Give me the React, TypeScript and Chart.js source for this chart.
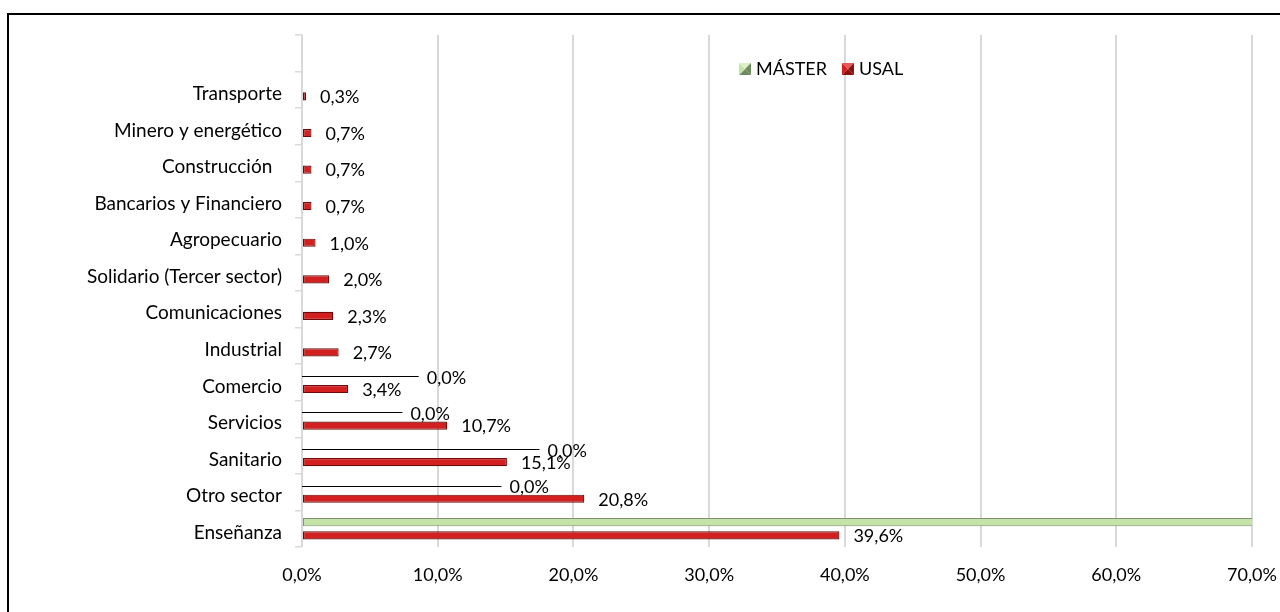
import React, { useEffect, useRef } from 'react';
import { Chart, registerables } from 'chart.js';

Chart.register(...registerables);

const categories = [
  '',
  'Transporte',
  'Minero y energético',
  'Construcción  ',
  'Bancarios y Financiero',
  'Agropecuario',
  'Solidario (Tercer sector)',
  'Comunicaciones',
  'Industrial',
  'Comercio',
  'Servicios',
  'Sanitario',
  'Otro sector',
  'Enseñanza',
];

const usalValues: (number | null)[] = [null, 0.3, 0.7, 0.7, 0.7, 1.0, 2.0, 2.3, 2.7, 3.4, 10.7, 15.1, 20.8, 39.6];
const masterValues: (number | null)[] = [null, null, null, null, null, null, null, null, null, 0, 0, 0, 0, 100];
// value (in %) at which the displaced MÁSTER data label's leader line ends
const masterLabelAt: (number | null)[] = [null, null, null, null, null, null, null, null, null, 8.6, 7.4, 17.5, 14.7, null];

const xMin = 0;
const xMax = 70;
const xStep = 10;

const FONT = 'Lato, "Open Sans", sans-serif';
const FS_CAT = 19;
const FS_NUM = 18;

const fmt = (v: number) => v.toFixed(1).replace('.', ',') + '%';

const valueLabels = {
  id: 'valueLabels',
  afterDatasetsDraw(chart: any) {
    const { ctx } = chart;
    const x = chart.scales.x;
    ctx.save();
    ctx.font = `${FS_NUM}px ${FONT}`;
    ctx.fillStyle = '#000';
    ctx.textBaseline = 'middle';
    ctx.textAlign = 'left';
    const usalMeta = chart.getDatasetMeta(1);
    usalMeta.data.forEach((bar: any, i: number) => {
      const v = usalValues[i];
      if (v == null) return;
      ctx.fillText(fmt(v), bar.x + 14, bar.y + 1);
    });
    const mMeta = chart.getDatasetMeta(0);
    mMeta.data.forEach((bar: any, i: number) => {
      const at = masterLabelAt[i];
      const v = masterValues[i];
      if (at == null || v == null) return;
      const xe = x.getPixelForValue(at);
      const y = Math.round(bar.y) + 0.5;
      ctx.strokeStyle = '#000';
      ctx.lineWidth = 1;
      ctx.beginPath();
      ctx.moveTo(bar.x, y);
      ctx.lineTo(xe, y);
      ctx.stroke();
      ctx.fillText(fmt(v), xe + 8, bar.y + 2);
    });
    ctx.restore();
  },
};

const customLegend = {
  id: 'customLegend',
  afterDraw(chart: any, _args: any, opts: any) {
    const { ctx } = chart;
    ctx.save();
    ctx.font = `${FS_NUM}px ${FONT}`;
    ctx.textBaseline = 'middle';
    ctx.textAlign = 'left';
    let xp = opts.x;
    const y = opts.y;
    const b = opts.box;
    chart.data.datasets.forEach((ds: any) => {
      const top = y - b / 2;
      const cx = xp + b / 2;
      const cy = y;
      const tri = (pts: number[][], col: string) => {
        ctx.fillStyle = col;
        ctx.beginPath();
        ctx.moveTo(pts[0][0], pts[0][1]);
        ctx.lineTo(pts[1][0], pts[1][1]);
        ctx.lineTo(pts[2][0], pts[2][1]);
        ctx.closePath();
        ctx.fill();
      };
      tri([[xp, top], [xp + b, top], [cx, cy]], ds.legendLight);
      tri([[xp, top + b], [xp + b, top + b], [cx, cy]], ds.legendDark);
      tri([[xp, top], [xp, top + b], [cx, cy]], ds.backgroundColor);
      tri([[xp + b, top], [xp + b, top + b], [cx, cy]], ds.legendDark);
      xp += b + 5;
      ctx.fillStyle = '#000';
      ctx.fillText(ds.label, xp, y);
      xp += ctx.measureText(ds.label).width + 15;
    });
    ctx.restore();
  },
};

export default function App() {
  const canvasRef = useRef<HTMLCanvasElement | null>(null);

  useEffect(() => {
    if (!canvasRef.current) return;
    const chart = new Chart(canvasRef.current, {
      type: 'bar',
      data: {
        labels: categories,
        datasets: [
          {
            label: 'MÁSTER',
            data: masterValues,
            backgroundColor: '#c4e3a6',
            borderColor: '#7f9273',
            borderWidth: 1,
            borderSkipped: false,
            legendLight: '#dcefc9',
            legendDark: '#6f8a5e',
          } as any,
          {
            label: 'USAL',
            data: usalValues,
            backgroundColor: '#d21f1f',
            borderColor: '#6e0a0a',
            borderWidth: 1.2,
            borderSkipped: false,
            legendLight: '#e85a5a',
            legendDark: '#8a0f0f',
          } as any,
        ],
      },
      options: {
        indexAxis: 'y',
        animation: false,
        responsive: true,
        maintainAspectRatio: false,
        categoryPercentage: 0.72,
        barPercentage: 0.62,
        layout: { padding: { top: 35, right: 28, left: 0, bottom: 0 } },
        plugins: {
          legend: { display: false },
          tooltip: { enabled: false },
          customLegend: { x: 739, y: 69, box: 12 },
        } as any,
        scales: {
          x: {
            min: xMin,
            max: xMax,
            ticks: {
              stepSize: xStep,
              callback: (v: any) => fmt(Number(v)),
              color: '#000',
              font: { family: FONT, size: FS_NUM },
              padding: 17,
              maxRotation: 0,
            },
            grid: { color: '#d9d9d9', lineWidth: 2, drawTicks: false },
            border: { display: false },
            afterFit: (s: any) => {
              s.height = 65;
              s.paddingLeft = 0;
              s.paddingRight = 0;
            },
          },
          y: {
            ticks: {
              color: '#000',
              font: { family: FONT, size: FS_CAT },
              padding: 13,
              labelOffset: 4,
              autoSkip: false,
            },
            grid: { drawOnChartArea: false, drawTicks: true, tickLength: 7, color: '#d9d9d9', lineWidth: 1.5 },
            border: { display: true, color: '#d9d9d9', width: 1.5 },
            afterFit: (s: any) => {
              s.width = 302;
              s.paddingTop = 0;
              s.paddingBottom = 0;
            },
          },
        },
      },
      plugins: [valueLabels, customLegend],
    });
    return () => chart.destroy();
  }, []);

  return (
    <div style={{ position: 'fixed', left: 0, top: 0, width: 1280, height: 612, overflow: 'hidden', background: '#fff' }}>
      <div
        style={{
          position: 'absolute',
          left: 7,
          top: 13,
          width: 1300,
          height: 640,
          border: '2px solid #000',
          boxSizing: 'border-box',
        }}
      />
      <div style={{ position: 'absolute', left: 0, top: 0, width: 1280, height: 612 }}>
        <canvas ref={canvasRef} />
      </div>
    </div>
  );
}
